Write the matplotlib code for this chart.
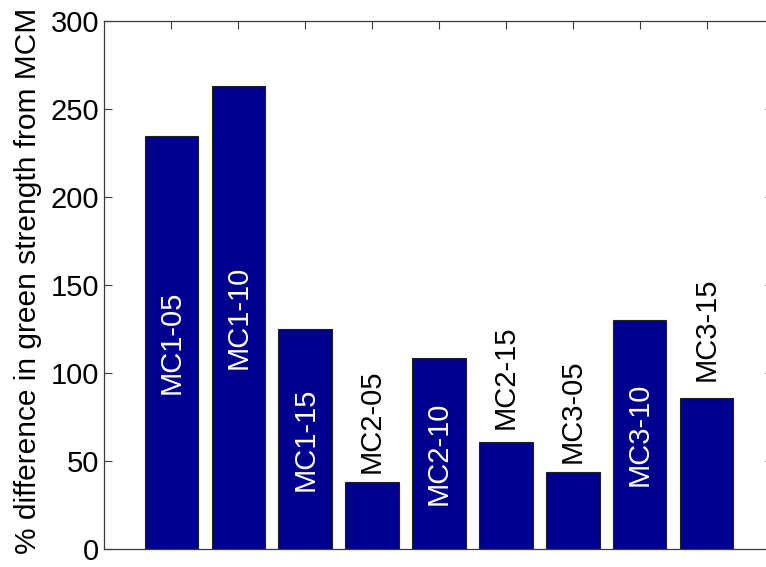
import matplotlib.pyplot as plt
import numpy as np

plt.rcParams['font.family'] = ['Liberation Sans', 'DejaVu Sans']

samples = ["MC1-05", "MC1-10", "MC1-15", "MC2-05", "MC2-10",
           "MC2-15", "MC3-05", "MC3-10", "MC3-15"]
diff_pct = [234.2, 262.8, 124.7, 37.8, 108.4, 60.9, 43.7, 130.0, 85.7]
label_inside = [True, True, True, False, True, False, False, True, False]

bar_color = "#00008F"
axis_color = "#3c3c3c"

fig = plt.figure(figsize=(7.66, 5.67), dpi=100)
# axes run a little past the right edge of the canvas
ax = fig.add_axes([104.5 / 766, 1 - 549 / 567, 669 / 766, 528.5 / 567])

x = np.arange(1, len(samples) + 1)
ax.bar(x, diff_pct, width=0.8, color=bar_color, edgecolor="#202020",
       linewidth=0.8, zorder=2)

# above-bar gaps in points for the outside labels
gaps = {3: 6.5, 5: 9.1, 6: 6.7, 8: 12.2}
for i, (name, v) in enumerate(zip(samples, diff_pct)):
    if label_inside[i]:
        ax.text(x[i], v / 2, name, rotation=90, ha="center", va="center",
                color="white", fontsize=21, zorder=3)
    else:
        ax.annotate(name, (x[i], v), xytext=(0, gaps[i]),
                    textcoords="offset points", rotation=90,
                    ha="center", va="bottom", color="black", fontsize=21,
                    zorder=3)

ax.set_xlim(0, 10)
ax.set_ylim(0, 300)
ax.set_xticks(x)
ax.set_xticklabels([])
ax.set_yticks(np.arange(0, 301, 50))
ax.tick_params(axis="both", direction="in", length=6, width=0.8,
               color=axis_color, top=True, right=True, labelsize=21,
               pad=4)
ax.tick_params(axis="x", bottom=False)
for sp in ax.spines.values():
    sp.set_color(axis_color)
    sp.set_linewidth(0.9)

ax.set_ylabel("% difference in green strength from MCM", fontsize=21.5,
              labelpad=7)
ax.yaxis.set_label_coords(-0.093, 0.507)

fig.savefig("out.png", dpi=100)
